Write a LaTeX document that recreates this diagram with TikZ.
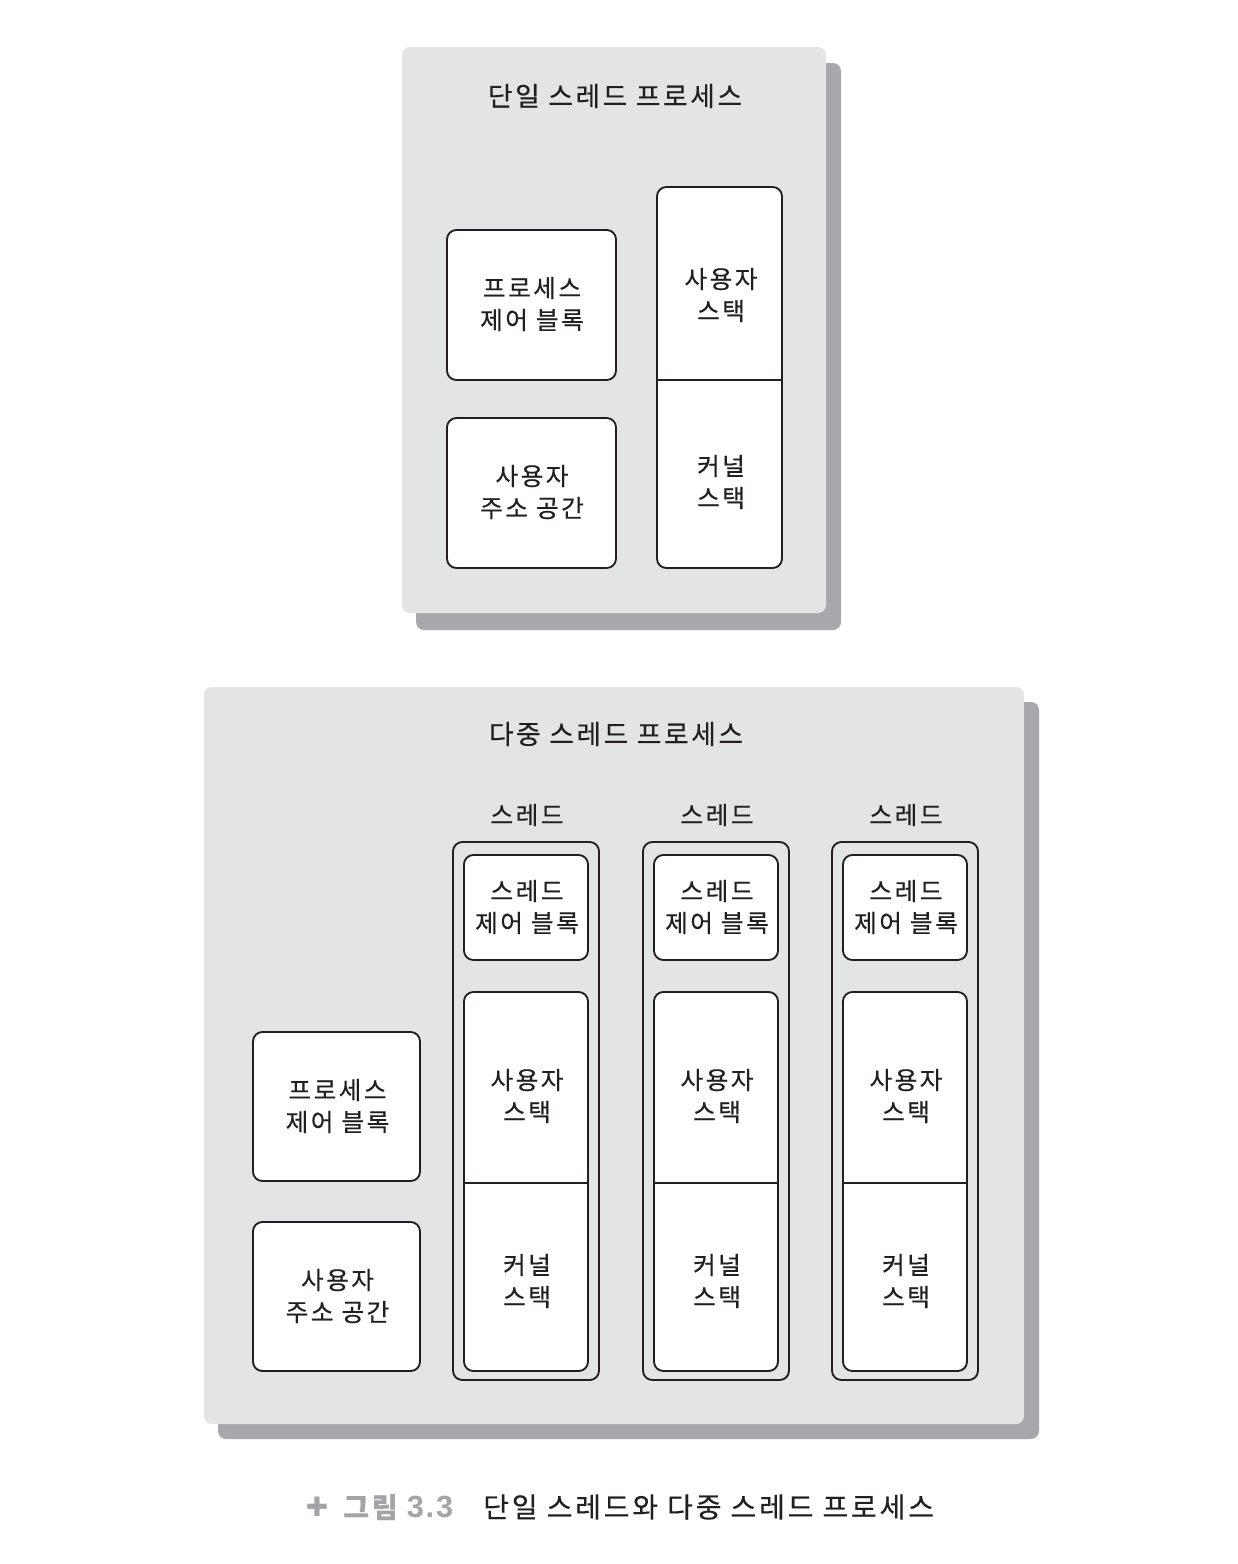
\documentclass[tikz,border=0pt]{standalone}
\usepackage{fontspec}
\setmainfont{Noto Sans CJK KR}[LetterSpace=10,FakeBold=0.4]
\newfontfamily\symfont{DejaVu Sans}
\newfontfamily\latfont{Liberation Sans}[LetterSpace=6]
\usetikzlibrary{fit}
\definecolor{panel}{HTML}{E3E4E6}
\definecolor{shade}{HTML}{A7A8AB}
\definecolor{ink}{HTML}{231F20}
\definecolor{capgray}{HTML}{A3A4A7}
\begin{document}
\begin{tikzpicture}[x=0.75pt,y=-0.75pt,
 panelbox/.style={fill=panel, rounded corners=6pt, inner sep=0pt},
 shadowbox/.style={fill=shade, rounded corners=6pt},
 box/.style={draw=ink, line width=1.4pt, fill=white, rounded corners=7pt, inner sep=0pt},
 frame/.style={draw=ink, line width=1.4pt, rounded corners=7pt, inner sep=0pt},
 divline/.style={draw=ink, line width=1.4pt},
 lbl/.style={text=ink, font=\fontsize{18.5}{24}\selectfont, align=center, inner sep=0pt},
 ttl/.style={text=ink, font=\fontsize{20}{24}\selectfont, inner sep=0pt}]
\useasboundingbox (0,0) rectangle (1238,1564);

% ---------- single thread process ----------
\fill[shadowbox] (416,63) rectangle (841,630);
\node[panelbox, fit={(402,47) (826,613)}] (p1) {};
\node[ttl] (t1) at (615,96) {단일 스레드 프로세스};
\node[box, fit={(447,230) (616,380)}] (pcb1) {};
\node[lbl] (pcb1l) at (532,304) {프로세스\\제어 블록};
\node[box, fit={(447,418) (616,568)}] (as1) {};
\node[lbl] (as1l) at (532,492) {사용자\\주소 공간};
\node[box, fit={(657,187) (782,568)}] (st1) {};
\coordinate (st1a) at (657,380);
\coordinate (st1b) at (782,380);
\draw[divline] (st1a) -- (st1b);
\node[lbl] (st1u) at (721,295) {사용자\\스택};
\node[lbl] (st1k) at (721,482) {커널\\스택};

% ---------- multi thread process ----------
\fill[shadowbox] (218,702) rectangle (1039,1439);
\node[panelbox, fit={(204,687) (1024,1424)}] (p2) {};
\node[ttl] (t2) at (616,734) {다중 스레드 프로세스};
\node[box, fit={(253,1032) (420,1181)}] (pcb2) {};
\node[lbl] (pcb2l) at (337.5,1106) {프로세스\\제어 블록};
\node[box, fit={(253,1222) (420,1371)}] (as2) {};
\node[lbl] (as2l) at (337.5,1296) {사용자\\주소 공간};

\foreach \i/\x in {1/453,2/643,3/832}{
  \node[lbl] (thl\i) at (\x+74,815) {스레드};
  \node[frame, fit={(\x,842) (\x+146,1380)}] (thr\i) {};
  \node[box, fit={(\x+11,855) (\x+135,960)}] (tcb\i) {};
  \node[lbl] (tcbl\i) at (\x+74,907) {스레드\\제어 블록};
  \node[box, fit={(\x+11,992) (\x+135,1371)}] (stk\i) {};
  \coordinate (stka\i) at (\x+11,1183);
  \coordinate (stkb\i) at (\x+135,1183);
  \draw[divline] (stka\i) -- (stkb\i);
  \node[lbl] (stku\i) at (\x+74,1096) {사용자\\스택};
  \node[lbl] (stkk\i) at (\x+74,1281) {커널\\스택};
}

% ---------- caption ----------
\node[text=capgray, font=\symfont\fontsize{20}{24}\selectfont, inner sep=0pt] (plus) at (317,1507) {✚};
\node[text=capgray, font=\bfseries\fontsize{21}{24}\selectfont, anchor=west, inner sep=0pt] (fig) at (343,1507) {그림 {\latfont\fontsize{23}{24}\selectfont 3.3}};
\node[text=ink, font=\fontsize{21}{24}\selectfont, anchor=west, inner sep=0pt] (cap) at (483,1507) {단일 스레드와 다중 스레드 프로세스};
\end{tikzpicture}
\end{document}
